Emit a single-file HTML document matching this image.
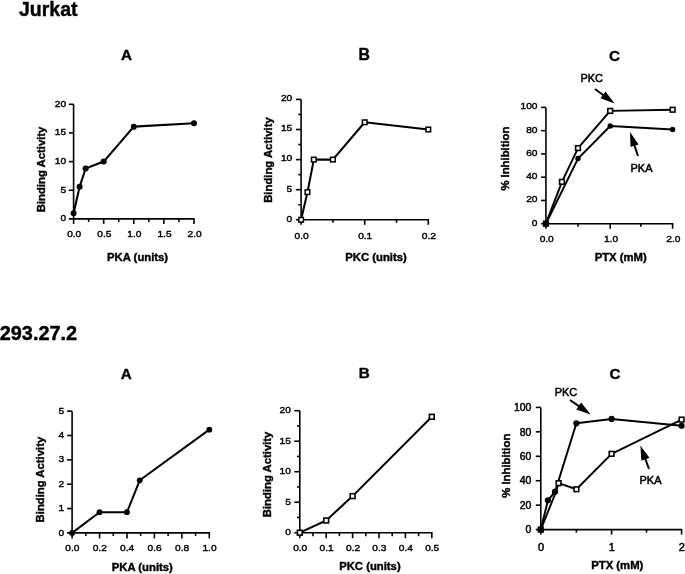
<!DOCTYPE html>
<html><head><meta charset="utf-8"><style>
html,body{margin:0;padding:0;background:#fff;}
body{width:685px;height:574px;overflow:hidden;}
svg{display:block;font-family:"Liberation Sans", sans-serif;filter:grayscale(1);}
text{stroke:#000;stroke-width:0.4px;}
text.n{stroke-width:0.5px;}
text.t{stroke-width:0.4px;}
</style></head><body>
<svg width="685" height="574" viewBox="0 0 685 574">
<rect width="685" height="574" fill="#fff"/>
<text x="19.00" y="15.60" font-size="19.5" font-weight="bold" text-anchor="start">Jurkat</text>
<text x="-0.30" y="340.00" font-size="19.9" font-weight="bold" text-anchor="start">293.27.2</text>
<line x1="73.60" y1="104.30" x2="73.60" y2="219.60" stroke="#000" stroke-width="1.6"/>
<line x1="68.80" y1="218.90" x2="194.70" y2="218.90" stroke="#000" stroke-width="1.6"/>
<line x1="68.80" y1="190.25" x2="73.60" y2="190.25" stroke="#000" stroke-width="1.6"/>
<line x1="68.80" y1="161.60" x2="73.60" y2="161.60" stroke="#000" stroke-width="1.6"/>
<line x1="68.80" y1="132.95" x2="73.60" y2="132.95" stroke="#000" stroke-width="1.6"/>
<line x1="68.80" y1="104.30" x2="73.60" y2="104.30" stroke="#000" stroke-width="1.6"/>
<line x1="73.60" y1="218.90" x2="73.60" y2="223.90" stroke="#000" stroke-width="1.6"/>
<line x1="88.65" y1="218.90" x2="88.65" y2="221.90" stroke="#000" stroke-width="1.6"/>
<line x1="103.70" y1="218.90" x2="103.70" y2="223.90" stroke="#000" stroke-width="1.6"/>
<line x1="118.75" y1="218.90" x2="118.75" y2="221.90" stroke="#000" stroke-width="1.6"/>
<line x1="133.80" y1="218.90" x2="133.80" y2="223.90" stroke="#000" stroke-width="1.6"/>
<line x1="148.85" y1="218.90" x2="148.85" y2="221.90" stroke="#000" stroke-width="1.6"/>
<line x1="163.90" y1="218.90" x2="163.90" y2="223.90" stroke="#000" stroke-width="1.6"/>
<line x1="178.95" y1="218.90" x2="178.95" y2="221.90" stroke="#000" stroke-width="1.6"/>
<line x1="194.00" y1="218.90" x2="194.00" y2="223.90" stroke="#000" stroke-width="1.6"/>
<text class="t" transform="translate(66.10 221.20) scale(1.13 1)" font-size="9.0" font-weight="normal" text-anchor="end">0</text>
<text class="t" transform="translate(66.10 192.55) scale(1.13 1)" font-size="9.0" font-weight="normal" text-anchor="end">5</text>
<text class="t" transform="translate(66.10 163.90) scale(1.13 1)" font-size="9.0" font-weight="normal" text-anchor="end">10</text>
<text class="t" transform="translate(66.10 135.25) scale(1.13 1)" font-size="9.0" font-weight="normal" text-anchor="end">15</text>
<text class="t" transform="translate(66.10 106.60) scale(1.13 1)" font-size="9.0" font-weight="normal" text-anchor="end">20</text>
<text class="t" transform="translate(74.20 237.30) scale(1.13 1)" font-size="9.0" font-weight="normal" text-anchor="middle">0.0</text>
<text class="t" transform="translate(104.30 237.30) scale(1.13 1)" font-size="9.0" font-weight="normal" text-anchor="middle">0.5</text>
<text class="t" transform="translate(134.40 237.30) scale(1.13 1)" font-size="9.0" font-weight="normal" text-anchor="middle">1.0</text>
<text class="t" transform="translate(164.50 237.30) scale(1.13 1)" font-size="9.0" font-weight="normal" text-anchor="middle">1.5</text>
<text class="t" transform="translate(194.60 237.30) scale(1.13 1)" font-size="9.0" font-weight="normal" text-anchor="middle">2.0</text>
<text x="45.50" y="169.40" font-size="11.3" font-weight="bold" text-anchor="middle" transform="rotate(-90 45.50 169.40)">Binding Activity</text>
<text x="137.60" y="261.20" font-size="11.3" font-weight="bold" text-anchor="middle">PKA (units)</text>
<text x="126.60" y="59.60" font-size="15.2" font-weight="bold" text-anchor="middle">A</text>
<polyline points="73.60,213.17 79.62,186.81 85.64,168.48 103.70,161.60 133.80,126.65 194.00,123.21" fill="none" stroke="#000" stroke-width="2.1" stroke-linejoin="round" stroke-linecap="round"/>
<circle cx="73.60" cy="213.17" r="3.0" fill="#000"/>
<circle cx="79.62" cy="186.81" r="3.0" fill="#000"/>
<circle cx="85.64" cy="168.48" r="3.0" fill="#000"/>
<circle cx="103.70" cy="161.60" r="3.0" fill="#000"/>
<circle cx="133.80" cy="126.65" r="3.0" fill="#000"/>
<circle cx="194.00" cy="123.21" r="3.0" fill="#000"/>
<line x1="301.10" y1="99.40" x2="301.10" y2="220.50" stroke="#000" stroke-width="1.6"/>
<line x1="295.90" y1="219.80" x2="429.00" y2="219.80" stroke="#000" stroke-width="1.6"/>
<line x1="298.30" y1="204.75" x2="301.10" y2="204.75" stroke="#000" stroke-width="1.6"/>
<line x1="295.90" y1="189.70" x2="301.10" y2="189.70" stroke="#000" stroke-width="1.6"/>
<line x1="298.30" y1="174.65" x2="301.10" y2="174.65" stroke="#000" stroke-width="1.6"/>
<line x1="295.90" y1="159.60" x2="301.10" y2="159.60" stroke="#000" stroke-width="1.6"/>
<line x1="298.30" y1="144.55" x2="301.10" y2="144.55" stroke="#000" stroke-width="1.6"/>
<line x1="295.90" y1="129.50" x2="301.10" y2="129.50" stroke="#000" stroke-width="1.6"/>
<line x1="298.30" y1="114.45" x2="301.10" y2="114.45" stroke="#000" stroke-width="1.6"/>
<line x1="295.90" y1="99.40" x2="301.10" y2="99.40" stroke="#000" stroke-width="1.6"/>
<line x1="301.10" y1="219.80" x2="301.10" y2="224.80" stroke="#000" stroke-width="1.6"/>
<line x1="332.90" y1="219.80" x2="332.90" y2="222.80" stroke="#000" stroke-width="1.6"/>
<line x1="364.70" y1="219.80" x2="364.70" y2="224.80" stroke="#000" stroke-width="1.6"/>
<line x1="396.50" y1="219.80" x2="396.50" y2="222.80" stroke="#000" stroke-width="1.6"/>
<line x1="428.30" y1="219.80" x2="428.30" y2="224.80" stroke="#000" stroke-width="1.6"/>
<text class="t" transform="translate(292.20 221.60) scale(1.13 1)" font-size="9.0" font-weight="normal" text-anchor="end">0</text>
<text class="t" transform="translate(292.20 191.50) scale(1.13 1)" font-size="9.0" font-weight="normal" text-anchor="end">5</text>
<text class="t" transform="translate(292.20 161.40) scale(1.13 1)" font-size="9.0" font-weight="normal" text-anchor="end">10</text>
<text class="t" transform="translate(292.20 131.30) scale(1.13 1)" font-size="9.0" font-weight="normal" text-anchor="end">15</text>
<text class="t" transform="translate(292.20 101.20) scale(1.13 1)" font-size="9.0" font-weight="normal" text-anchor="end">20</text>
<text class="t" transform="translate(301.60 239.30) scale(1.13 1)" font-size="9.0" font-weight="normal" text-anchor="middle">0.0</text>
<text class="t" transform="translate(365.20 239.30) scale(1.13 1)" font-size="9.0" font-weight="normal" text-anchor="middle">0.1</text>
<text class="t" transform="translate(428.80 239.30) scale(1.13 1)" font-size="9.0" font-weight="normal" text-anchor="middle">0.2</text>
<text x="272.30" y="160.00" font-size="11.3" font-weight="bold" text-anchor="middle" transform="rotate(-90 272.30 160.00)">Binding Activity</text>
<text x="376.00" y="261.20" font-size="11.3" font-weight="bold" text-anchor="middle">PKC (units)</text>
<text x="364.30" y="59.60" font-size="15.8" font-weight="bold" text-anchor="middle">B</text>
<polyline points="301.10,219.80 307.46,192.11 313.82,159.60 332.90,159.60 364.70,122.28 428.30,129.50" fill="none" stroke="#000" stroke-width="2.05" stroke-linejoin="round" stroke-linecap="round"/>
<rect x="298.80" y="217.50" width="4.6" height="4.6" fill="#fff" stroke="#000" stroke-width="1.5"/>
<rect x="305.16" y="189.81" width="4.6" height="4.6" fill="#fff" stroke="#000" stroke-width="1.5"/>
<rect x="311.52" y="157.30" width="4.6" height="4.6" fill="#fff" stroke="#000" stroke-width="1.5"/>
<rect x="330.60" y="157.30" width="4.6" height="4.6" fill="#fff" stroke="#000" stroke-width="1.5"/>
<rect x="362.40" y="119.98" width="4.6" height="4.6" fill="#fff" stroke="#000" stroke-width="1.5"/>
<rect x="426.00" y="127.20" width="4.6" height="4.6" fill="#fff" stroke="#000" stroke-width="1.5"/>
<line x1="545.90" y1="107.40" x2="545.90" y2="224.40" stroke="#000" stroke-width="1.6"/>
<line x1="541.10" y1="223.70" x2="673.30" y2="223.70" stroke="#000" stroke-width="1.6"/>
<line x1="541.10" y1="200.44" x2="545.90" y2="200.44" stroke="#000" stroke-width="1.6"/>
<line x1="541.10" y1="177.18" x2="545.90" y2="177.18" stroke="#000" stroke-width="1.6"/>
<line x1="541.10" y1="153.92" x2="545.90" y2="153.92" stroke="#000" stroke-width="1.6"/>
<line x1="541.10" y1="130.66" x2="545.90" y2="130.66" stroke="#000" stroke-width="1.6"/>
<line x1="541.10" y1="107.40" x2="545.90" y2="107.40" stroke="#000" stroke-width="1.6"/>
<line x1="545.90" y1="223.70" x2="545.90" y2="228.70" stroke="#000" stroke-width="1.6"/>
<line x1="578.00" y1="223.70" x2="578.00" y2="226.70" stroke="#000" stroke-width="1.6"/>
<line x1="610.20" y1="223.70" x2="610.20" y2="228.70" stroke="#000" stroke-width="1.6"/>
<line x1="640.90" y1="223.70" x2="640.90" y2="226.70" stroke="#000" stroke-width="1.6"/>
<line x1="672.60" y1="223.70" x2="672.60" y2="228.70" stroke="#000" stroke-width="1.6"/>
<text class="t" transform="translate(537.50 225.60) scale(1.13 1)" font-size="9.0" font-weight="normal" text-anchor="end">0</text>
<text class="t" transform="translate(537.50 202.34) scale(1.13 1)" font-size="9.0" font-weight="normal" text-anchor="end">20</text>
<text class="t" transform="translate(537.50 179.08) scale(1.13 1)" font-size="9.0" font-weight="normal" text-anchor="end">40</text>
<text class="t" transform="translate(537.50 155.82) scale(1.13 1)" font-size="9.0" font-weight="normal" text-anchor="end">60</text>
<text class="t" transform="translate(537.50 132.56) scale(1.13 1)" font-size="9.0" font-weight="normal" text-anchor="end">80</text>
<text class="t" transform="translate(537.50 109.30) scale(1.13 1)" font-size="9.0" font-weight="normal" text-anchor="end">100</text>
<text class="t" transform="translate(546.70 242.40) scale(1.13 1)" font-size="9.0" font-weight="normal" text-anchor="middle">0.0</text>
<text class="t" transform="translate(611.00 242.40) scale(1.13 1)" font-size="9.0" font-weight="normal" text-anchor="middle">1.0</text>
<text class="t" transform="translate(673.40 242.40) scale(1.13 1)" font-size="9.0" font-weight="normal" text-anchor="middle">2.0</text>
<text x="508.60" y="158.60" font-size="11.3" font-weight="bold" text-anchor="middle" transform="rotate(-90 508.60 158.60)">% Inhibition</text>
<text x="620.70" y="261.00" font-size="11.3" font-weight="bold" text-anchor="middle">PTX (mM)</text>
<text x="614.60" y="61.00" font-size="15.2" font-weight="bold" text-anchor="middle">C</text>
<polyline points="545.90,223.70 561.95,181.83 578.00,148.10 610.20,110.89 672.60,109.73" fill="none" stroke="#000" stroke-width="1.95" stroke-linejoin="round" stroke-linecap="round"/>
<polyline points="545.90,223.70 578.00,158.57 610.20,126.01 672.60,129.50" fill="none" stroke="#000" stroke-width="1.95" stroke-linejoin="round" stroke-linecap="round"/>
<rect x="543.55" y="221.35" width="4.7" height="4.7" fill="#fff" stroke="#000" stroke-width="1.6"/>
<rect x="559.60" y="179.48" width="4.7" height="4.7" fill="#fff" stroke="#000" stroke-width="1.6"/>
<rect x="575.65" y="145.75" width="4.7" height="4.7" fill="#fff" stroke="#000" stroke-width="1.6"/>
<rect x="607.85" y="108.54" width="4.7" height="4.7" fill="#fff" stroke="#000" stroke-width="1.6"/>
<rect x="670.25" y="107.38" width="4.7" height="4.7" fill="#fff" stroke="#000" stroke-width="1.6"/>
<circle cx="545.90" cy="223.70" r="2.7" fill="#000"/>
<circle cx="578.00" cy="158.57" r="2.7" fill="#000"/>
<circle cx="610.20" cy="126.01" r="2.7" fill="#000"/>
<circle cx="672.60" cy="129.50" r="2.7" fill="#000"/>
<text class="n" x="591.70" y="82.40" font-size="11" font-weight="normal" text-anchor="middle">PKC</text>
<line x1="595.00" y1="89.00" x2="603.75" y2="95.47" stroke="#000" stroke-width="2.0"/>
<polygon points="614.60,103.50 600.42,98.29 605.47,91.46" fill="#000"/>
<text class="n" x="641.50" y="172.00" font-size="11" font-weight="normal" text-anchor="middle">PKA</text>
<line x1="638.00" y1="156.00" x2="634.27" y2="144.81" stroke="#000" stroke-width="2.0"/>
<polygon points="630.00,132.00 638.62,144.41 630.55,147.10" fill="#000"/>
<line x1="72.10" y1="411.15" x2="72.10" y2="533.60" stroke="#000" stroke-width="1.6"/>
<line x1="67.10" y1="532.90" x2="210.00" y2="532.90" stroke="#000" stroke-width="1.6"/>
<line x1="67.10" y1="508.55" x2="72.10" y2="508.55" stroke="#000" stroke-width="1.6"/>
<line x1="67.10" y1="484.20" x2="72.10" y2="484.20" stroke="#000" stroke-width="1.6"/>
<line x1="67.10" y1="459.85" x2="72.10" y2="459.85" stroke="#000" stroke-width="1.6"/>
<line x1="67.10" y1="435.50" x2="72.10" y2="435.50" stroke="#000" stroke-width="1.6"/>
<line x1="67.10" y1="411.15" x2="72.10" y2="411.15" stroke="#000" stroke-width="1.6"/>
<line x1="72.10" y1="532.90" x2="72.10" y2="538.40" stroke="#000" stroke-width="1.6"/>
<line x1="85.82" y1="532.90" x2="85.82" y2="535.90" stroke="#000" stroke-width="1.6"/>
<line x1="99.54" y1="532.90" x2="99.54" y2="538.40" stroke="#000" stroke-width="1.6"/>
<line x1="113.26" y1="532.90" x2="113.26" y2="535.90" stroke="#000" stroke-width="1.6"/>
<line x1="126.98" y1="532.90" x2="126.98" y2="538.40" stroke="#000" stroke-width="1.6"/>
<line x1="140.70" y1="532.90" x2="140.70" y2="535.90" stroke="#000" stroke-width="1.6"/>
<line x1="154.42" y1="532.90" x2="154.42" y2="538.40" stroke="#000" stroke-width="1.6"/>
<line x1="168.14" y1="532.90" x2="168.14" y2="535.90" stroke="#000" stroke-width="1.6"/>
<line x1="181.86" y1="532.90" x2="181.86" y2="538.40" stroke="#000" stroke-width="1.6"/>
<line x1="195.58" y1="532.90" x2="195.58" y2="535.90" stroke="#000" stroke-width="1.6"/>
<line x1="209.30" y1="532.90" x2="209.30" y2="538.40" stroke="#000" stroke-width="1.6"/>
<text class="t" transform="translate(64.20 535.50) scale(1.13 1)" font-size="9.0" font-weight="normal" text-anchor="end">0</text>
<text class="t" transform="translate(64.20 511.15) scale(1.13 1)" font-size="9.0" font-weight="normal" text-anchor="end">1</text>
<text class="t" transform="translate(64.20 486.80) scale(1.13 1)" font-size="9.0" font-weight="normal" text-anchor="end">2</text>
<text class="t" transform="translate(64.20 462.45) scale(1.13 1)" font-size="9.0" font-weight="normal" text-anchor="end">3</text>
<text class="t" transform="translate(64.20 438.10) scale(1.13 1)" font-size="9.0" font-weight="normal" text-anchor="end">4</text>
<text class="t" transform="translate(64.20 413.75) scale(1.13 1)" font-size="9.0" font-weight="normal" text-anchor="end">5</text>
<text class="t" transform="translate(72.30 551.30) scale(1.13 1)" font-size="9.0" font-weight="normal" text-anchor="middle">0.0</text>
<text class="t" transform="translate(99.74 551.30) scale(1.13 1)" font-size="9.0" font-weight="normal" text-anchor="middle">0.2</text>
<text class="t" transform="translate(127.18 551.30) scale(1.13 1)" font-size="9.0" font-weight="normal" text-anchor="middle">0.4</text>
<text class="t" transform="translate(154.62 551.30) scale(1.13 1)" font-size="9.0" font-weight="normal" text-anchor="middle">0.6</text>
<text class="t" transform="translate(182.06 551.30) scale(1.13 1)" font-size="9.0" font-weight="normal" text-anchor="middle">0.8</text>
<text class="t" transform="translate(209.50 551.30) scale(1.13 1)" font-size="9.0" font-weight="normal" text-anchor="middle">1.0</text>
<text x="44.20" y="479.60" font-size="11.3" font-weight="bold" text-anchor="middle" transform="rotate(-90 44.20 479.60)">Binding Activity</text>
<text x="142.30" y="570.80" font-size="11.3" font-weight="bold" text-anchor="middle">PKA (units)</text>
<text x="126.20" y="379.00" font-size="15.2" font-weight="bold" text-anchor="middle">A</text>
<polyline points="72.10,532.90 99.54,512.20 126.98,512.20 139.74,480.30 209.30,429.66" fill="none" stroke="#000" stroke-width="2.0" stroke-linejoin="round" stroke-linecap="round"/>
<circle cx="72.10" cy="532.90" r="2.9" fill="#000"/>
<circle cx="99.54" cy="512.20" r="2.9" fill="#000"/>
<circle cx="126.98" cy="512.20" r="2.9" fill="#000"/>
<circle cx="139.74" cy="480.30" r="2.9" fill="#000"/>
<circle cx="209.30" cy="429.66" r="2.9" fill="#000"/>
<line x1="299.80" y1="410.70" x2="299.80" y2="533.40" stroke="#000" stroke-width="1.6"/>
<line x1="294.30" y1="532.70" x2="432.50" y2="532.70" stroke="#000" stroke-width="1.6"/>
<line x1="297.00" y1="517.45" x2="299.80" y2="517.45" stroke="#000" stroke-width="1.6"/>
<line x1="294.30" y1="502.20" x2="299.80" y2="502.20" stroke="#000" stroke-width="1.6"/>
<line x1="297.00" y1="486.95" x2="299.80" y2="486.95" stroke="#000" stroke-width="1.6"/>
<line x1="294.30" y1="471.70" x2="299.80" y2="471.70" stroke="#000" stroke-width="1.6"/>
<line x1="297.00" y1="456.45" x2="299.80" y2="456.45" stroke="#000" stroke-width="1.6"/>
<line x1="294.30" y1="441.20" x2="299.80" y2="441.20" stroke="#000" stroke-width="1.6"/>
<line x1="297.00" y1="425.95" x2="299.80" y2="425.95" stroke="#000" stroke-width="1.6"/>
<line x1="294.30" y1="410.70" x2="299.80" y2="410.70" stroke="#000" stroke-width="1.6"/>
<line x1="299.80" y1="532.70" x2="299.80" y2="538.20" stroke="#000" stroke-width="1.6"/>
<line x1="313.00" y1="532.70" x2="313.00" y2="536.20" stroke="#000" stroke-width="1.6"/>
<line x1="326.20" y1="532.70" x2="326.20" y2="538.20" stroke="#000" stroke-width="1.6"/>
<line x1="339.40" y1="532.70" x2="339.40" y2="536.20" stroke="#000" stroke-width="1.6"/>
<line x1="352.60" y1="532.70" x2="352.60" y2="538.20" stroke="#000" stroke-width="1.6"/>
<line x1="365.80" y1="532.70" x2="365.80" y2="536.20" stroke="#000" stroke-width="1.6"/>
<line x1="379.00" y1="532.70" x2="379.00" y2="538.20" stroke="#000" stroke-width="1.6"/>
<line x1="392.20" y1="532.70" x2="392.20" y2="536.20" stroke="#000" stroke-width="1.6"/>
<line x1="405.40" y1="532.70" x2="405.40" y2="538.20" stroke="#000" stroke-width="1.6"/>
<line x1="418.60" y1="532.70" x2="418.60" y2="536.20" stroke="#000" stroke-width="1.6"/>
<line x1="431.80" y1="532.70" x2="431.80" y2="538.20" stroke="#000" stroke-width="1.6"/>
<text class="t" transform="translate(290.80 535.00) scale(1.13 1)" font-size="9.0" font-weight="normal" text-anchor="end">0</text>
<text class="t" transform="translate(290.80 504.50) scale(1.13 1)" font-size="9.0" font-weight="normal" text-anchor="end">5</text>
<text class="t" transform="translate(290.80 474.00) scale(1.13 1)" font-size="9.0" font-weight="normal" text-anchor="end">10</text>
<text class="t" transform="translate(290.80 443.50) scale(1.13 1)" font-size="9.0" font-weight="normal" text-anchor="end">15</text>
<text class="t" transform="translate(290.80 413.00) scale(1.13 1)" font-size="9.0" font-weight="normal" text-anchor="end">20</text>
<text class="t" transform="translate(300.20 551.00) scale(1.13 1)" font-size="9.0" font-weight="normal" text-anchor="middle">0.0</text>
<text class="t" transform="translate(326.60 551.00) scale(1.13 1)" font-size="9.0" font-weight="normal" text-anchor="middle">0.1</text>
<text class="t" transform="translate(353.00 551.00) scale(1.13 1)" font-size="9.0" font-weight="normal" text-anchor="middle">0.2</text>
<text class="t" transform="translate(379.40 551.00) scale(1.13 1)" font-size="9.0" font-weight="normal" text-anchor="middle">0.3</text>
<text class="t" transform="translate(405.80 551.00) scale(1.13 1)" font-size="9.0" font-weight="normal" text-anchor="middle">0.4</text>
<text class="t" transform="translate(432.20 551.00) scale(1.13 1)" font-size="9.0" font-weight="normal" text-anchor="middle">0.5</text>
<text x="271.30" y="474.40" font-size="11.3" font-weight="bold" text-anchor="middle" transform="rotate(-90 271.30 474.40)">Binding Activity</text>
<text x="369.90" y="570.40" font-size="11.3" font-weight="bold" text-anchor="middle">PKC (units)</text>
<text x="364.30" y="378.00" font-size="15.2" font-weight="bold" text-anchor="middle">B</text>
<polyline points="299.80,532.70 326.20,520.50 352.60,496.10 431.80,416.80" fill="none" stroke="#000" stroke-width="2.0" stroke-linejoin="round" stroke-linecap="round"/>
<rect x="297.40" y="530.30" width="4.8" height="4.8" fill="#fff" stroke="#000" stroke-width="1.6"/>
<rect x="323.80" y="518.10" width="4.8" height="4.8" fill="#fff" stroke="#000" stroke-width="1.6"/>
<rect x="350.20" y="493.70" width="4.8" height="4.8" fill="#fff" stroke="#000" stroke-width="1.6"/>
<rect x="429.40" y="414.40" width="4.8" height="4.8" fill="#fff" stroke="#000" stroke-width="1.6"/>
<line x1="540.80" y1="407.40" x2="540.80" y2="530.30" stroke="#000" stroke-width="1.6"/>
<line x1="535.80" y1="529.60" x2="682.30" y2="529.60" stroke="#000" stroke-width="1.6"/>
<line x1="535.80" y1="505.16" x2="540.80" y2="505.16" stroke="#000" stroke-width="1.6"/>
<line x1="535.80" y1="480.72" x2="540.80" y2="480.72" stroke="#000" stroke-width="1.6"/>
<line x1="535.80" y1="456.28" x2="540.80" y2="456.28" stroke="#000" stroke-width="1.6"/>
<line x1="535.80" y1="431.84" x2="540.80" y2="431.84" stroke="#000" stroke-width="1.6"/>
<line x1="535.80" y1="407.40" x2="540.80" y2="407.40" stroke="#000" stroke-width="1.6"/>
<line x1="540.80" y1="529.60" x2="540.80" y2="534.60" stroke="#000" stroke-width="1.6"/>
<line x1="576.40" y1="529.60" x2="576.40" y2="532.60" stroke="#000" stroke-width="1.6"/>
<line x1="611.60" y1="529.60" x2="611.60" y2="534.60" stroke="#000" stroke-width="1.6"/>
<line x1="646.50" y1="529.60" x2="646.50" y2="532.60" stroke="#000" stroke-width="1.6"/>
<line x1="681.60" y1="529.60" x2="681.60" y2="534.60" stroke="#000" stroke-width="1.6"/>
<text class="n" transform="translate(531.30 533.30) scale(1.0 1)" font-size="10.4" font-weight="normal" text-anchor="end">0</text>
<text class="n" transform="translate(531.30 508.86) scale(1.0 1)" font-size="10.4" font-weight="normal" text-anchor="end">20</text>
<text class="n" transform="translate(531.30 484.42) scale(1.0 1)" font-size="10.4" font-weight="normal" text-anchor="end">40</text>
<text class="n" transform="translate(531.30 459.98) scale(1.0 1)" font-size="10.4" font-weight="normal" text-anchor="end">60</text>
<text class="n" transform="translate(531.30 435.54) scale(1.0 1)" font-size="10.4" font-weight="normal" text-anchor="end">80</text>
<text class="n" transform="translate(531.30 411.10) scale(1.0 1)" font-size="10.4" font-weight="normal" text-anchor="end">100</text>
<text class="n" transform="translate(541.00 550.50) scale(1.0 1)" font-size="11" font-weight="normal" text-anchor="middle">0</text>
<text class="n" transform="translate(611.80 550.50) scale(1.0 1)" font-size="11" font-weight="normal" text-anchor="middle">1</text>
<text class="n" transform="translate(681.80 550.50) scale(1.0 1)" font-size="11" font-weight="normal" text-anchor="middle">2</text>
<text x="510.20" y="465.70" font-size="11.3" font-weight="bold" text-anchor="middle" transform="rotate(-90 510.20 465.70)">% Inhibition</text>
<text x="617.30" y="569.40" font-size="11.3" font-weight="bold" text-anchor="middle">PTX (mM)</text>
<text x="615.00" y="379.00" font-size="15.2" font-weight="bold" text-anchor="middle">C</text>
<polyline points="540.80,529.60 555.04,494.16 558.60,483.16 576.40,489.27 611.60,453.84 681.60,419.62" fill="none" stroke="#000" stroke-width="1.95" stroke-linejoin="round" stroke-linecap="round"/>
<polyline points="540.80,529.60 547.92,500.27 555.04,491.72 576.40,423.29 611.60,418.89 681.60,425.73" fill="none" stroke="#000" stroke-width="2.0" stroke-linejoin="round" stroke-linecap="round"/>
<rect x="538.45" y="527.25" width="4.7" height="4.7" fill="#fff" stroke="#000" stroke-width="1.6"/>
<rect x="556.25" y="480.81" width="4.7" height="4.7" fill="#fff" stroke="#000" stroke-width="1.6"/>
<rect x="574.05" y="486.92" width="4.7" height="4.7" fill="#fff" stroke="#000" stroke-width="1.6"/>
<rect x="609.25" y="451.49" width="4.7" height="4.7" fill="#fff" stroke="#000" stroke-width="1.6"/>
<rect x="679.25" y="417.27" width="4.7" height="4.7" fill="#fff" stroke="#000" stroke-width="1.6"/>
<circle cx="540.80" cy="529.60" r="3.1" fill="#000"/>
<circle cx="547.92" cy="500.27" r="3.1" fill="#000"/>
<circle cx="555.04" cy="491.72" r="3.1" fill="#000"/>
<circle cx="576.40" cy="423.29" r="3.1" fill="#000"/>
<circle cx="611.60" cy="418.89" r="3.1" fill="#000"/>
<circle cx="681.60" cy="425.73" r="3.1" fill="#000"/>
<text class="n" x="566.00" y="395.60" font-size="11" font-weight="normal" text-anchor="middle">PKC</text>
<line x1="570.00" y1="400.00" x2="579.54" y2="406.67" stroke="#000" stroke-width="2.0"/>
<polygon points="590.60,414.40 576.28,409.58 581.15,402.61" fill="#000"/>
<text class="n" x="650.50" y="484.40" font-size="11" font-weight="normal" text-anchor="middle">PKA</text>
<line x1="649.00" y1="469.00" x2="645.06" y2="458.27" stroke="#000" stroke-width="2.0"/>
<polygon points="640.40,445.60 649.39,457.74 641.41,460.68" fill="#000"/>
</svg>
</body></html>
